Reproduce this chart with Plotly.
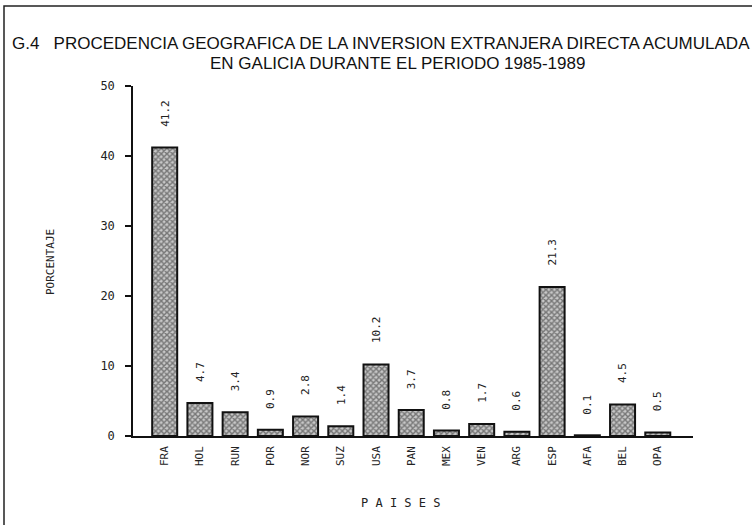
import plotly.graph_objects as go

paises = ["FRA", "HOL", "RUN", "POR", "NOR", "SUZ", "USA", "PAN", "MEX", "VEN", "ARG", "ESP", "AFA", "BEL", "OPA"]
porcentaje = [41.2, 4.7, 3.4, 0.9, 2.8, 1.4, 10.2, 3.7, 0.8, 1.7, 0.6, 21.3, 0.1, 4.5, 0.5]
etiquetas = ["41.2", "4.7", "3.4", "0.9", "2.8", "1.4", "10.2", "3.7", "0.8", "1.7", "0.6", "21.3", "0.1", "4.5", "0.5"]
y_ticks = [0, 10, 20, 30, 40, 50]

mono = "DejaVu Sans Mono"
L, R, T, B = 133, 59, 86, 89
W, H = 752, 525
PW, PH = W - L - R, H - T - B

fig = go.Figure()
fig.add_trace(go.Bar(
    x=list(range(len(paises))),
    y=porcentaje,
    width=0.71,
    marker=dict(
        color="#b5b5b5",
        line=dict(color="#111111", width=2),
        pattern=dict(shape="x", fgcolor="#262626", bgcolor="#c8c8c8", size=4, solidity=0.6),
    ),
    showlegend=False,
    hoverinfo="skip",
))

for i, (v, t) in enumerate(zip(porcentaje, etiquetas)):
    fig.add_annotation(
        x=i, y=v, xref="x", yref="y",
        text=t, showarrow=False, textangle=-90,
        yanchor="bottom", yshift=19,
        font=dict(family=mono, size=11, color="#222222"),
    )

fig.update_xaxes(
    range=[-0.9, 15.0],
    tickmode="array",
    tickvals=list(range(len(paises))),
    ticktext=paises,
    tickangle=-90,
    ticks="",
    showline=True, linecolor="#111111", linewidth=1.5,
    showgrid=False, zeroline=False, automargin=False,
    ticklabelstandoff=4,
    tickfont=dict(family=mono, size=11, color="#222222"),
)
fig.update_yaxes(
    range=[0, 50],
    tickmode="array",
    tickvals=y_ticks,
    ticktext=[str(v) for v in y_ticks],
    ticks="outside", ticklen=6, tickcolor="#111111", tickwidth=1.5,
    showline=True, linecolor="#111111", linewidth=1.5,
    showgrid=False, zeroline=False, automargin=False,
    ticklabelstandoff=8,
    tickfont=dict(family=mono, size=12, color="#222222"),
)

# axis titles
fig.add_annotation(
    xref="paper", yref="paper", x=(400 - L) / PW, y=(H - 503 - B) / PH,
    text="P A I S E S", showarrow=False, xanchor="center", yanchor="middle",
    font=dict(family=mono, size=12, color="#222222"),
)
fig.add_annotation(
    xref="paper", yref="paper", x=(50 - L) / PW, y=(H - 262 - B) / PH,
    text="PORCENTAJE", showarrow=False, textangle=-90, xanchor="center", yanchor="middle",
    font=dict(family=mono, size=11, color="#222222"),
)

# title
fig.add_annotation(
    xref="paper", yref="paper", x=(381 - L) / PW, y=(H - 44 - B) / PH,
    text="G.4   PROCEDENCIA GEOGRAFICA DE LA INVERSION EXTRANJERA DIRECTA ACUMULADA",
    showarrow=False, xanchor="center", yanchor="middle",
    font=dict(family="Liberation Sans", size=17, color="#111111"),
)
fig.add_annotation(
    xref="paper", yref="paper", x=(397 - L) / PW, y=(H - 64 - B) / PH,
    text="EN GALICIA DURANTE EL PERIODO 1985-1989",
    showarrow=False, xanchor="center", yanchor="middle",
    font=dict(family="Liberation Sans", size=17, color="#111111"),
)

# scan frame (page border)
fig.add_shape(type="rect", xref="paper", yref="paper",
              x0=(4 - L) / PW, x1=(W + 20 - L) / PW,
              y0=-(B + 20) / PH, y1=(H - 6 - B) / PH,
              line=dict(color="#222222", width=1.5), fillcolor="rgba(0,0,0,0)", layer="above")

fig.update_layout(
    width=W, height=H,
    margin=dict(l=L, r=R, t=T, b=B, autoexpand=False),
    paper_bgcolor="white", plot_bgcolor="white",
    bargap=0.3,
)

fig.write_html("out.html", config={"displayModeBar": False},
               post_script="document.body.style.margin='0px';")
